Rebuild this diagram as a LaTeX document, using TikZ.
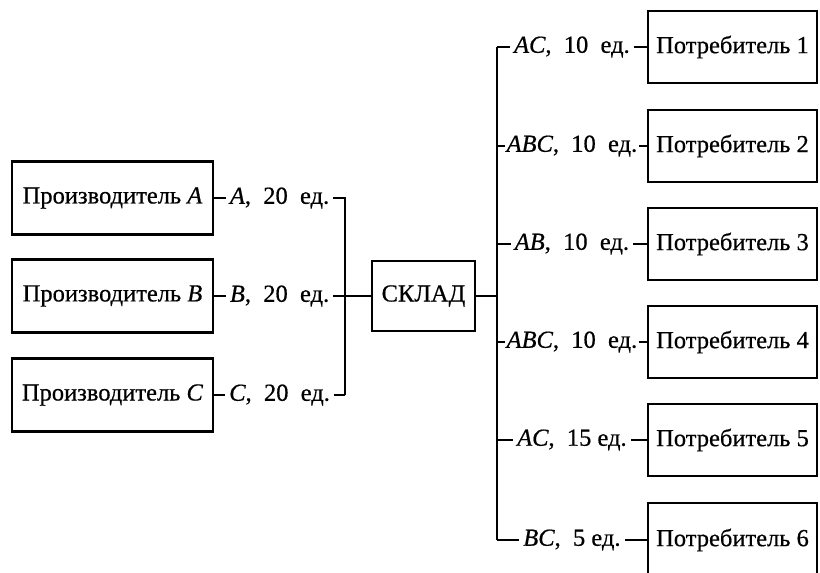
\documentclass[tikz,border=0pt]{standalone}
\usepackage{fontspec}
\setmainfont{Liberation Serif}[FakeBold=0.6]
\begin{document}
\begin{tikzpicture}[x=1pt,y=-1pt,
  line width=2pt, line join=miter,
  box/.style={draw, line width=2.3pt, inner sep=0pt, align=center,
              font=\fontsize{24.5}{29}\selectfont},
  prod/.style={box, minimum width=201pt, minimum height=73pt},
  cons/.style={box, minimum width=169pt, minimum height=72pt},
  lbl/.style={fill=white, inner xsep=4pt, inner ysep=2pt,
              font=\fontsize{24.5}{29}\selectfont}]
\useasboundingbox (0,0) rectangle (820,573);

% producers
\node[prod] (pa) at (112.5,198) {Производитель \textit{A}};
\node[prod] (pb) at (112.5,296) {Производитель \textit{B}};
\node[prod] (pc) at (112.5,395) {Производитель \textit{C}};

% warehouse
\node[box, minimum width=103pt, minimum height=70pt] (sklad) at (423.5,296) {СКЛАД};

% consumers
\node[cons] (c1) at (732.5,47)  {Потребитель 1};
\node[cons] (c2) at (732.5,146) {Потребитель 2};
\node[cons] (c3) at (732.5,244) {Потребитель 3};
\node[cons] (c4) at (732.5,342) {Потребитель 4};
\node[cons] (c5) at (732.5,440) {Потребитель 5};
\node[cons, minimum height=74pt] (c6) at (732.5,540) {Потребитель 6};

% bus lines
\coordinate (jl) at (345,296);
\coordinate (jr) at (497,296);

% supply side
\draw (pa.east) -- node[lbl] {\textit{A},\hspace{0.25em} 20\hspace{0.25em} ед.} (pa.east -| jl)
      -- (pc.east -| jl);
\draw (pc.east -| jl) -- node[lbl] {\textit{C},\hspace{0.25em} 20\hspace{0.25em} ед.} (pc.east);
\draw (pb.east) -- node[lbl] {\textit{B},\hspace{0.25em} 20\hspace{0.25em} ед.} (pb.east -| jl)
      -- (sklad.west);

% delivery side
\draw (sklad.east) -- (sklad.east -| jr);
\draw (c1.west -| jr) -- (c6.west -| jr);
\draw (c1.west -| jr) -- node[lbl] {\textit{AC},\hspace{0.25em} 10\hspace{0.25em} ед.} (c1.west);
\draw (c2.west -| jr) -- node[lbl, inner xsep=2pt] {\textit{ABC},\hspace{0.25em} 10\hspace{0.25em} ед.} (c2.west);
\draw (c3.west -| jr) -- node[lbl] {\textit{AB},\hspace{0.25em} 10\hspace{0.25em} ед.} (c3.west);
\draw (c4.west -| jr) -- node[lbl, inner xsep=2pt] {\textit{ABC},\hspace{0.25em} 10\hspace{0.25em} ед.} (c4.west);
\draw (c5.west -| jr) -- node[lbl] {\textit{AC},\hspace{0.25em} 15 ед.} (c5.west);
\draw (c6.west -| jr) -- node[lbl] {\textit{BC},\hspace{0.25em} 5 ед.} (c6.west);
\end{tikzpicture}
\end{document}
